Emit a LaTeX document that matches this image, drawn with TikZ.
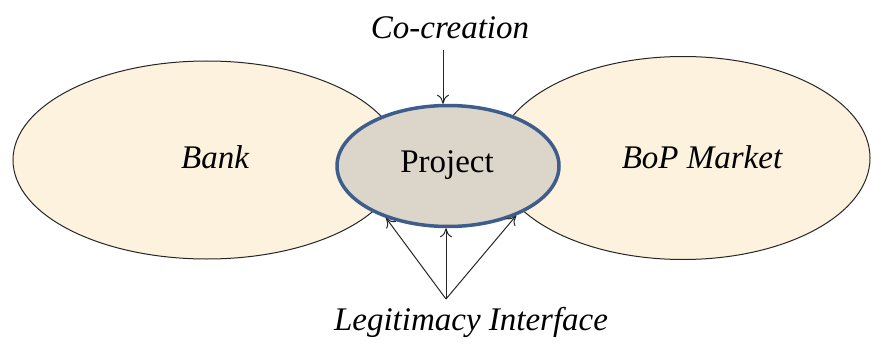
\documentclass[tikz,border=0pt]{standalone}
\usepackage{fontspec}
\setmainfont{Liberation Serif}
\usetikzlibrary{shapes.geometric,arrows.meta}
\definecolor{cream}{RGB}{252,242,221}
\definecolor{projfill}{RGB}{220,213,202}
\definecolor{projline}{RGB}{62,92,140}
\tikzset{
  side/.style={ellipse, draw=black!85, line width=1pt, fill=cream, inner sep=0pt},
  projbox/.style={ellipse, draw=projline, line width=3.5pt, fill=projfill, inner sep=0pt},
  lbl/.style={font=\fontsize{33}{38}\selectfont\itshape, inner sep=0pt},
  arr/.style={-{To[length=9pt,width=12pt]}, line width=1pt, black!85}
}
\begin{document}
\begin{tikzpicture}[x=1pt,y=-1pt]
\useasboundingbox (0,0) rectangle (875,345);
\node[side, minimum width=388pt, minimum height=198pt] (bank) at (207,160) {};
\node[side, minimum width=374pt, minimum height=203pt] (bop) at (683,158) {};
\node[projbox, minimum width=222pt, minimum height=121pt] (proj) at (448,166) {};
\node[lbl] (banktxt) at (215,157) {Bank};
\node[lbl] (boptxt) at (702,157) {BoP Market};
\node[font=\fontsize{33}{38}\selectfont, inner sep=0pt] (projtxt) at (447,165) {Project};
\node[lbl] (cocr) at (450,28) {Co-creation};
\node[lbl] (legit) at (471,322) {Legitimacy Interface};
\coordinate (ccs) at (443,50);
\coordinate (lbase) at (446,299);
\draw[arr] (ccs) -- (ccs |- proj.north);
\draw[arr] (lbase) -- (proj.220);
\draw[arr] (lbase) -- (lbase |- proj.south);
\draw[arr] (lbase) -- (proj.324);
\end{tikzpicture}
\end{document}
